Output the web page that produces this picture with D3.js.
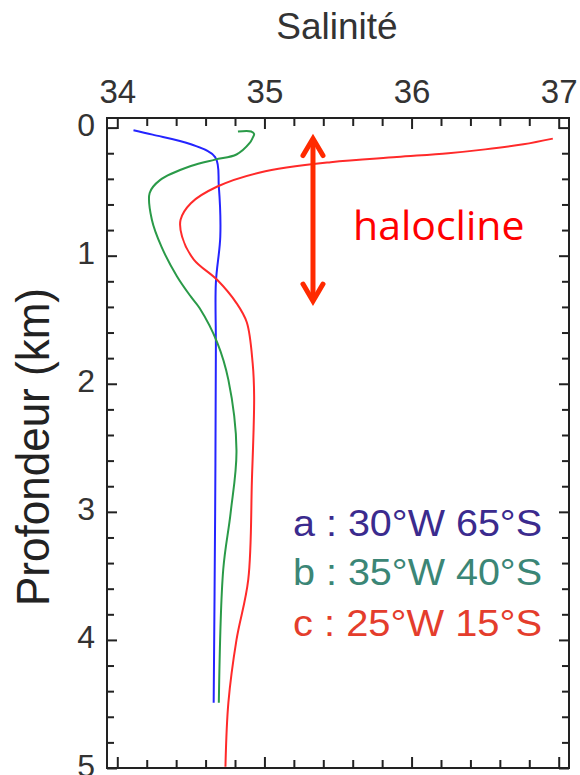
<!DOCTYPE html>
<html lang="fr">
<head>
<meta charset="UTF-8">
<title>Salinité - profils</title>
<script src="https://cdn.jsdelivr.net/npm/d3@7"></script>
<style>
  body { margin: 0; background: #fff; }
  svg { display: block; }
</style>
</head>
<body>
<script>
// profils de salinité (profondeur en km, salinité)
const depthA = [0.02, 0.055, 0.13, 0.23, 0.46, 0.85, 1.21, 1.71, 3.01, 4.49];
const salA   = [34.11, 34.24, 34.50, 34.665, 34.69, 34.70, 34.67, 34.67, 34.665, 34.655];

const depthB = [0.03, 0.03, 0.05, 0.08, 0.12, 0.21, 0.25, 0.30, 0.41, 0.51, 0.72, 0.93, 1.16, 1.32, 1.41, 1.68, 1.97, 2.52, 3.01, 3.45, 4.49];
const salB   = [34.82, 34.91, 34.93, 34.92, 34.90, 34.81, 34.665, 34.50, 34.29, 34.22, 34.235, 34.30, 34.405, 34.50, 34.56, 34.68, 34.755, 34.81, 34.77, 34.72, 34.69];

const depthC = [0.086, 0.13, 0.17, 0.20, 0.23, 0.27, 0.35, 0.46, 0.59, 0.72, 0.85, 1.03, 1.19, 1.37, 1.52, 1.84, 2.10, 2.75, 3.53, 4.0, 4.49, 4.99];
const salC   = [36.96, 36.76, 36.50, 36.25, 35.90, 35.45, 34.97, 34.68, 34.50, 34.43, 34.44, 34.52, 34.68, 34.81, 34.88, 34.92, 34.93, 34.915, 34.89, 34.81, 34.755, 34.735];

const xTicks = [34, 35, 36, 37];
const yTicks = [0, 1, 2, 3, 4, 5];
const legendLabels = ["a : 30°W 65°S", "b : 35°W 40°S", "c : 25°W 15°S"];
const legendColors = ["#3b2b8e", "#3b8676", "#e43d2c"];
const curveColors = ["#2424ff", "#2a9a48", "#ff2a2a"];

const W = 580, H = 775;
const svg = d3.select("body").append("svg").attr("width", W).attr("height", H);

const x = d3.scaleLinear().domain([33.93, 37.07]).range([107, 569]);
const y = d3.scaleLinear().domain([-0.075, 5]).range([118, 768]);

const fontAxis = "'Liberation Sans', Arial, sans-serif";

// titre
svg.append("text")
  .attr("x", 337).attr("y", 39)
  .attr("text-anchor", "middle")
  .attr("font-family", fontAxis).attr("font-size", 37)
  .attr("fill", "#333")
  .text("Salinité");

// titre axe vertical
svg.append("text")
  .attr("transform", "translate(49,447) rotate(-90)")
  .attr("text-anchor", "middle")
  .attr("font-family", fontAxis).attr("font-size", 46)
  .attr("fill", "#222")
  .attr("textLength", 318).attr("lengthAdjust", "spacingAndGlyphs")
  .text("Profondeur (km)");

// axes : graduations vers l'intérieur
const minorX = d3.range(34, 37.01, 0.2).filter(v => !xTicks.some(t => Math.abs(t - v) < 1e-6));
const minorY = d3.range(0, 5.01, 0.2).filter(v => !yTicks.some(t => Math.abs(t - v) < 1e-6));

function styleAxis(g) {
  g.select(".domain").remove();
  g.selectAll("line").attr("stroke", "#222").attr("stroke-width", 2);
  g.selectAll("text").attr("font-family", fontAxis).attr("fill", "#333");
}

// haut
svg.append("g").attr("transform", `translate(0,${y.range()[0]})`)
  .call(d3.axisTop(x).tickValues(minorX).tickSize(-8).tickFormat(""))
  .call(styleAxis);
svg.append("g").attr("transform", `translate(0,${y.range()[0]})`)
  .call(d3.axisTop(x).tickValues(xTicks).tickSize(-11).tickPadding(15).tickFormat(d3.format("d")))
  .call(styleAxis)
  .selectAll("text").attr("font-size", 33);

// bas
svg.append("g").attr("transform", `translate(0,${y.range()[1]})`)
  .call(d3.axisBottom(x).tickValues(minorX).tickSize(-8).tickFormat(""))
  .call(styleAxis);
svg.append("g").attr("transform", `translate(0,${y.range()[1]})`)
  .call(d3.axisBottom(x).tickValues(xTicks).tickSize(-11).tickFormat(""))
  .call(styleAxis);

// gauche
svg.append("g").attr("transform", `translate(${x.range()[0]},0)`)
  .call(d3.axisLeft(y).tickValues(minorY).tickSize(-7).tickFormat(""))
  .call(styleAxis);
svg.append("g").attr("transform", `translate(${x.range()[0]},0)`)
  .call(d3.axisLeft(y).tickValues(yTicks).tickSize(-10).tickPadding(12).tickFormat(d3.format("d")))
  .call(styleAxis)
  .selectAll("text").attr("font-size", 32).attr("dy", "0.25em");

// droite
svg.append("g").attr("transform", `translate(${x.range()[1]},0)`)
  .call(d3.axisRight(y).tickValues(minorY).tickSize(-7).tickFormat(""))
  .call(styleAxis);
svg.append("g").attr("transform", `translate(${x.range()[1]},0)`)
  .call(d3.axisRight(y).tickValues(yTicks).tickSize(-10).tickFormat(""))
  .call(styleAxis);

// cadre
svg.append("rect")
  .attr("x", x.range()[0]).attr("y", y.range()[0])
  .attr("width", x.range()[1] - x.range()[0])
  .attr("height", y.range()[1] - y.range()[0])
  .attr("fill", "none").attr("stroke", "#222").attr("stroke-width", 2);

// courbes
const series = [
  d3.zip(salA, depthA),
  d3.zip(salB, depthB),
  d3.zip(salC, depthC)
];
const line = d3.line()
  .x(d => x(d[0]))
  .y(d => y(d[1]))
  .curve(d3.curveCatmullRom.alpha(0.5));

svg.append("g").selectAll("path")
  .data(series)
  .join("path")
  .attr("d", line)
  .attr("fill", "none")
  .attr("stroke", (d, i) => curveColors[i])
  .attr("stroke-width", 2)
  .attr("stroke-linejoin", "round");

// légende
svg.append("g").selectAll("text")
  .data(legendLabels)
  .join("text")
  .attr("x", 293)
  .attr("y", (d, i) => [536, 585, 636][i])
  .attr("font-family", fontAxis).attr("font-size", 37)
  .attr("fill", (d, i) => legendColors[i])
  .attr("textLength", 249).attr("lengthAdjust", "spacingAndGlyphs")
  .text(d => d);

// halocline : flèche double + texte
const arrowX = x(35.33);
const arrowTop = y(0.07), arrowBot = y(1.37);
const red = "#ff2a00";
svg.append("line")
  .attr("x1", arrowX).attr("x2", arrowX)
  .attr("y1", arrowTop + 3).attr("y2", arrowBot - 3)
  .attr("stroke", red).attr("stroke-width", 5);
svg.append("path")
  .attr("d", `M${arrowX - 10},${arrowTop + 19}L${arrowX},${arrowTop + 2}L${arrowX + 10},${arrowTop + 19}`)
  .attr("fill", "none").attr("stroke", red).attr("stroke-width", 5)
  .attr("stroke-linejoin", "miter").attr("stroke-linecap", "round");
svg.append("path")
  .attr("d", `M${arrowX - 10},${arrowBot - 19}L${arrowX},${arrowBot - 2}L${arrowX + 10},${arrowBot - 19}`)
  .attr("fill", "none").attr("stroke", red).attr("stroke-width", 5)
  .attr("stroke-linejoin", "miter").attr("stroke-linecap", "round");

svg.append("text")
  .attr("x", 353).attr("y", 240)
  .attr("font-family", "'Open Sans', 'Noto Sans', sans-serif").attr("font-size", 41)
  .attr("fill", "#ff0000")
  .text("halocline");
</script>
</body>
</html>
